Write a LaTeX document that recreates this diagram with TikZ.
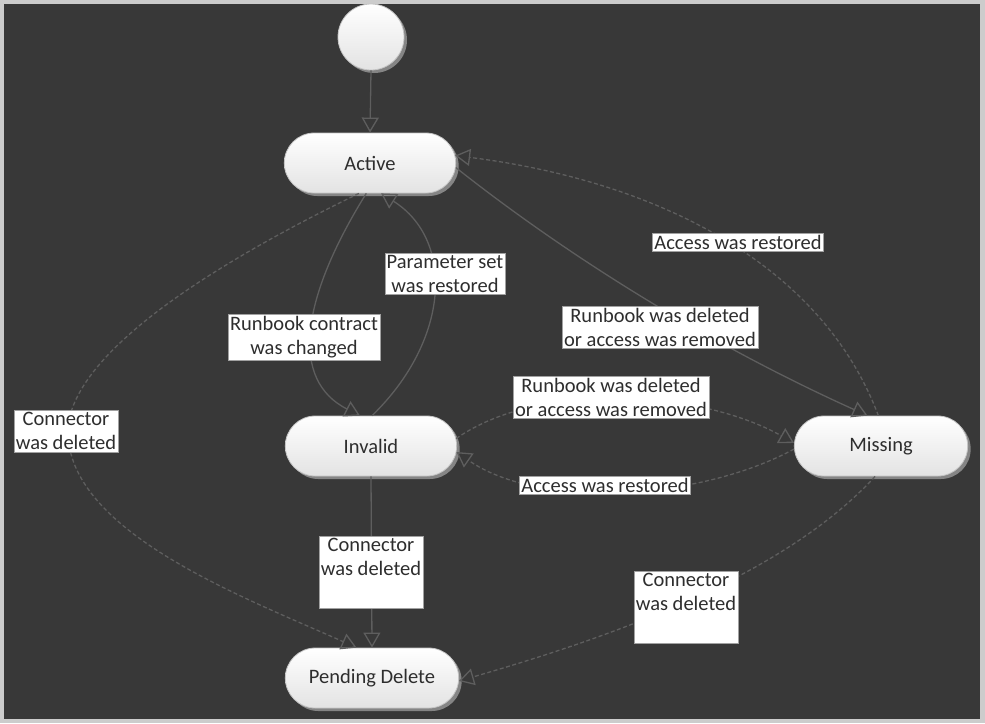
\documentclass[tikz,border=0pt]{standalone}
\usepackage{fontspec}
\setmainfont{Carlito}
\usetikzlibrary{shapes.misc}
\usetikzlibrary{shadows}
\usetikzlibrary{arrows.meta}

\begin{document}
\begin{tikzpicture}[x=1pt,y=-1pt,
  state/.style={rounded rectangle,minimum width=178pt,minimum height=60pt,top color=white,bottom color=mycolorE2E2E2,draw=mycolorC4C4C4,line width=0.8pt,text=mycolor2E2E2E,font=\fontsize{20.5}{24}\selectfont,drop shadow={shadow xshift=3pt,shadow yshift=-3pt,fill=mycolor858585,opacity=1}},
  trans/.style={draw=mycolor5E5E5E,line width=1.3pt,-{Triangle[open,length=15pt,width=17pt,line width=1.3pt]}},
  dashtrans/.style={trans,dash pattern=on 4pt off 2.5pt},
  lbl/.style={fill=white,draw=mycolorA0A0A0,line width=0.4pt,inner sep=2pt,align=center,text=mycolor2E2E2E,font=\fontsize{20.5}{24}\selectfont}]
\definecolor{mycolorCCCCCC}{rgb}{0.8,0.8,0.8}
\definecolor{mycolor383838}{rgb}{0.22,0.22,0.22}
\definecolor{mycolorE2E2E2}{rgb}{0.89,0.89,0.89}
\definecolor{mycolorC4C4C4}{rgb}{0.77,0.77,0.77}
\definecolor{mycolor2E2E2E}{rgb}{0.18,0.18,0.18}
\definecolor{mycolor858585}{rgb}{0.52,0.52,0.52}
\definecolor{mycolor5E5E5E}{rgb}{0.37,0.37,0.37}
\definecolor{mycolorA0A0A0}{rgb}{0.63,0.63,0.63}
% frame and background
\fill [mycolorCCCCCC] (0,0) rectangle (985,723);
\fill [mycolor383838] (4,4) rectangle (980,719);
\useasboundingbox (0,0) rectangle (985,723);
\begin{scope}
% states
\node [state,circle,minimum width=66pt,minimum height=66pt,inner sep=0pt] (start) at (371,37) {};
\node [state] (act) at (370,163) {Active};
\node [state] (inv) at (371,446) {Invalid};
\node [state,minimum width=180pt] (mis) at (881,446) {Missing};
\node [state,minimum width=180pt] (pd) at (372,678) {Pending Delete};
\end{scope}
\begin{scope}
% transitions
\draw [trans] (start.south) -- (act.north);
\draw [trans] (act.263) .. controls (300,300) and (290,380) .. (inv.110);
\draw [trans] (inv.88) .. controls (450,340) and (455,240) .. (act.290);
\draw [dashtrans] (act.250) .. controls (160,290) and (50,380) .. (70,450) .. controls (90,540) and (250,600) .. (pd.117);
\draw [trans] (inv.south) -- (pd.north);
\draw [dashtrans] (mis.259) .. controls (780,580) and (600,640) .. (pd.358);
\draw [dashtrans] (inv.5) .. controls (540,380) and (700,390) .. (mis.178);
\draw [dashtrans] (mis.182) .. controls (700,500) and (540,510) .. (inv.356);
\draw [dashtrans] (mis.95) .. controls (820,260) and (650,180) .. (act.5);
\draw [trans] (act.357) .. controls (560,250) and (700,340) .. (mis.114);
\end{scope}
\begin{scope}
% labels
\node [lbl] (lchanged) at (304,337) {Runbook contract\\was changed};
\node [lbl] (lparam) at (445,274) {Parameter set\\was restored};
\node [lbl] (lleft) at (66,431) {Connector\\was deleted};
\node [lbl] (lmid) at (371,572) {Connector\\was deleted\\\strut};
\node [lbl] (lright) at (686,607) {Connector\\was deleted\\\strut};
\node [lbl] (lremoved) at (611,397) {Runbook was deleted\\or access was removed};
\node [lbl] (lrestored) at (605,485) {Access was restored};
\node [lbl] (lrestoredtop) at (738,242) {Access was restored};
\node [lbl] (lremovedtop) at (660,327) {Runbook was deleted\\or access was removed};
\end{scope}
\end{tikzpicture}
\end{document}
